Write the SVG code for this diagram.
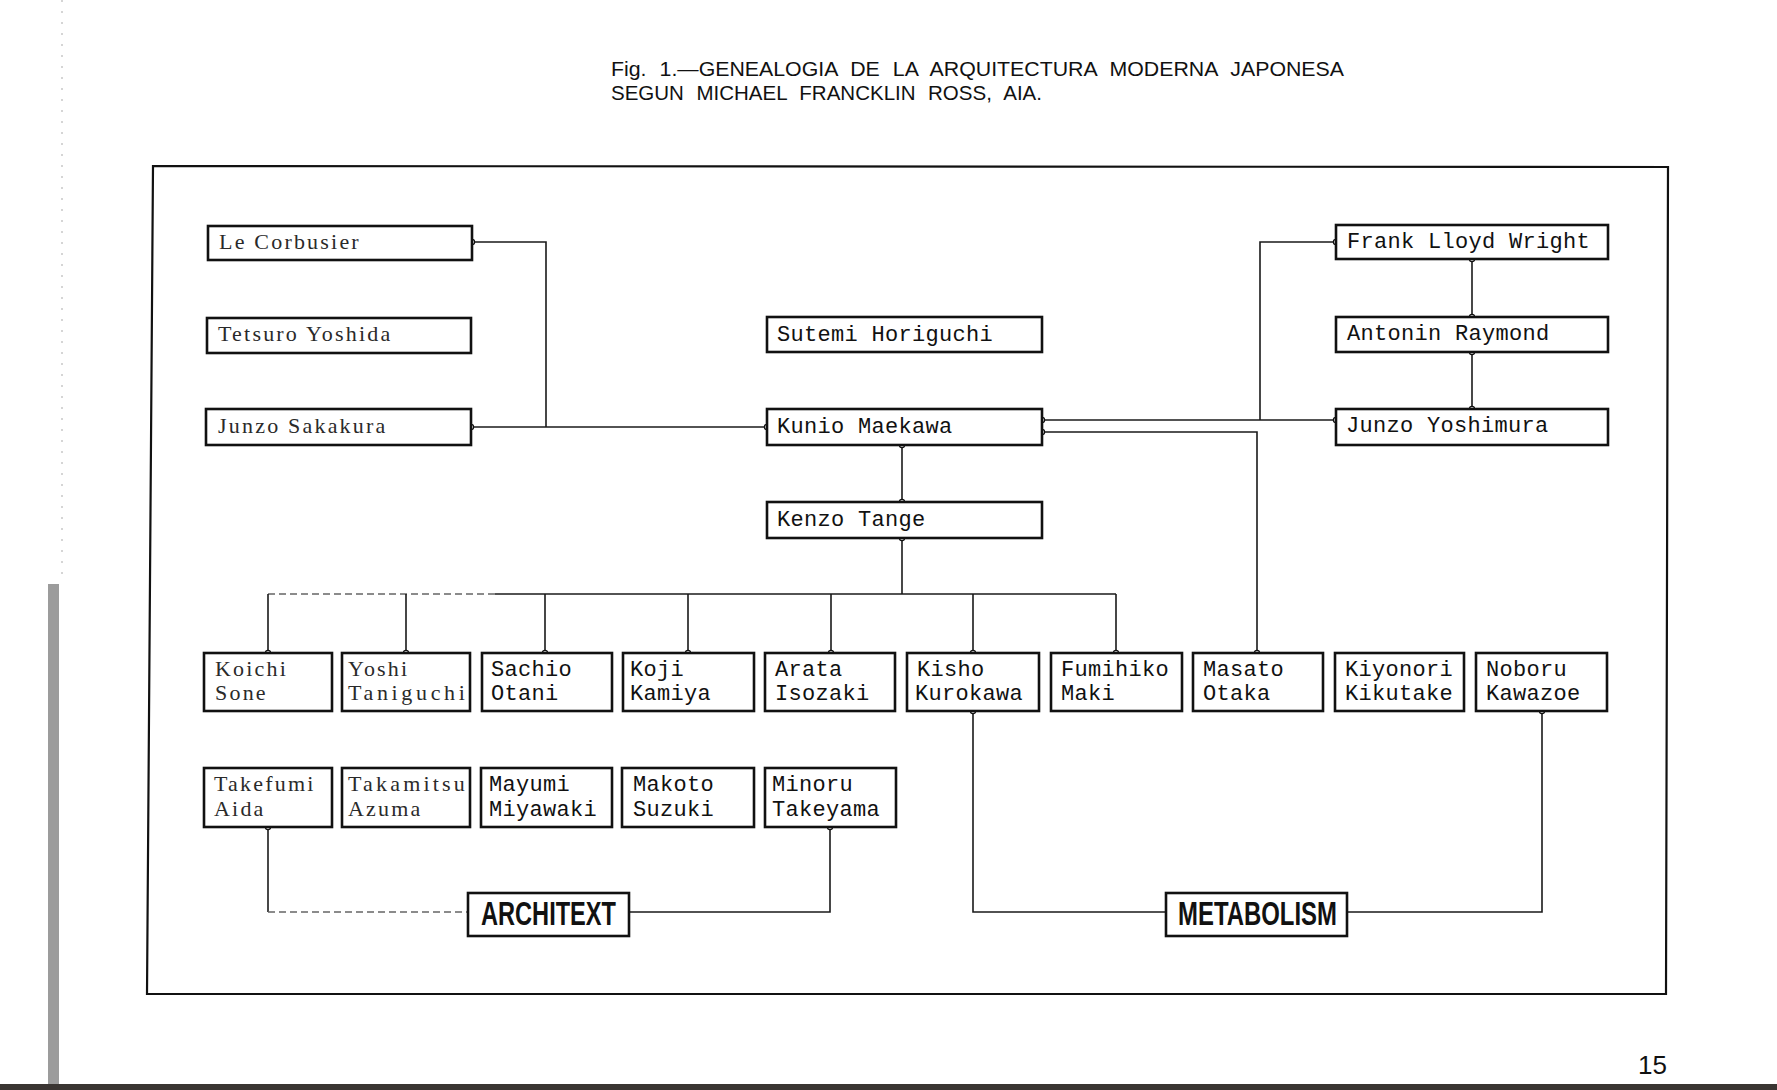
<svg xmlns="http://www.w3.org/2000/svg" width="1777" height="1090" viewBox="0 0 1777 1090">
<style>
.bx{fill:#fff;stroke:#111;stroke-width:2.6}
.t{font-family:"Liberation Mono","DejaVu Sans Mono",monospace;font-size:22px;letter-spacing:0.3px;fill:#111}
.s{font-family:"Liberation Serif","DejaVu Serif",serif;font-size:22px;letter-spacing:2.2px;fill:#2a2a2a}
.c{fill:none;stroke:#1a1a1a;stroke-width:1.6}
.cf{fill:none;stroke:#666;stroke-width:1.4;stroke-dasharray:7 4}
.d{fill:#fff;stroke:#111;stroke-width:1.2}
.big{font-family:"Liberation Sans","Arial",sans-serif;font-weight:bold;font-size:33px;fill:#111}
.ttl{font-family:"Liberation Sans","Arial",sans-serif;font-size:21px;word-spacing:7px;fill:#111}
</style>
<rect x="0" y="0" width="1777" height="1090" fill="#fff"/>
<rect x="48" y="584" width="11" height="500" fill="#9c9c9c"/>
<line x1="62" y1="0" x2="62" y2="580" stroke="#c8c8c8" stroke-width="1.5" stroke-dasharray="2 9"/>
<rect x="0" y="1084" width="1777" height="6" fill="#3a3532"/>
<text class="ttl" x="611" y="76" textLength="733" lengthAdjust="spacingAndGlyphs">Fig. 1.—GENEALOGIA DE LA ARQUITECTURA MODERNA JAPONESA</text>
<text class="ttl" x="611" y="100" textLength="431" lengthAdjust="spacingAndGlyphs">SEGUN MICHAEL FRANCKLIN ROSS, AIA.</text>
<text x="1638" y="1074" font-family="Liberation Sans, Arial, sans-serif" font-size="26" fill="#111">15</text>
<polygon points="153,166 1668,167 1666,994 147,994" fill="none" stroke="#111" stroke-width="2.2"/>

<g id="connectors">
<path class="c" d="M472,242 H546 V427"/>
<path class="c" d="M471,427 H767"/>
<path class="c" d="M1042,420 H1336"/>
<path class="c" d="M1336,242 H1260 V420"/>
<path class="c" d="M1042,432 H1257 V653"/>
<path class="c" d="M1472,259 V317"/>
<path class="c" d="M1472,352 V409"/>
<path class="c" d="M902,445 V502"/>
<path class="c" d="M902,538 V594"/>
<path class="cf" d="M268,594 H495"/>
<path class="c" d="M495,594 H1116"/>
<path class="c" d="M268,594 V653 M406,594 V653 M545,594 V653 M688,594 V653 M831,594 V653 M973,594 V653 M1116,594 V653"/>
<path class="c" d="M268,827 V912"/>
<path class="cf" d="M268,912 H468"/>
<path class="c" d="M629,912 H830 V827"/>
<path class="c" d="M973,711 V912 H1166"/>
<path class="c" d="M1347,912 H1542 V711"/>
<g>
<circle class="d" cx="472" cy="242" r="2.6"/>
<circle class="d" cx="471" cy="427" r="2.6"/>
<circle class="d" cx="767" cy="427" r="2.6"/>
<circle class="d" cx="1042" cy="420" r="2.6"/>
<circle class="d" cx="1042" cy="432" r="2.6"/>
<circle class="d" cx="902" cy="445" r="2.6"/>
<circle class="d" cx="902" cy="502" r="2.6"/>
<circle class="d" cx="902" cy="538" r="2.6"/>
<circle class="d" cx="1336" cy="242" r="2.6"/>
<circle class="d" cx="1336" cy="420" r="2.6"/>
<circle class="d" cx="1472" cy="259" r="2.6"/>
<circle class="d" cx="1472" cy="317" r="2.6"/>
<circle class="d" cx="1472" cy="352" r="2.6"/>
<circle class="d" cx="1472" cy="409" r="2.6"/>
<circle class="d" cx="268" cy="653" r="2.6"/>
<circle class="d" cx="406" cy="653" r="2.6"/>
<circle class="d" cx="545" cy="653" r="2.6"/>
<circle class="d" cx="688" cy="653" r="2.6"/>
<circle class="d" cx="831" cy="653" r="2.6"/>
<circle class="d" cx="973" cy="653" r="2.6"/>
<circle class="d" cx="1116" cy="653" r="2.6"/>
<circle class="d" cx="1257" cy="653" r="2.6"/>
<circle class="d" cx="973" cy="711" r="2.6"/>
<circle class="d" cx="1542" cy="711" r="2.6"/>
<circle class="d" cx="268" cy="827" r="2.6"/>
<circle class="d" cx="830" cy="827" r="2.6"/>
</g>
</g>

<g id="le-corbusier"><rect class="bx" x="208" y="226" width="264" height="34"/><text class="s" x="219" y="249">Le Corbusier</text></g>
<g id="tetsuro-yoshida"><rect class="bx" x="207" y="318" width="264" height="35"/><text class="s" x="218" y="341">Tetsuro Yoshida</text></g>
<g id="junzo-sakakura"><rect class="bx" x="206" y="409" width="265" height="36"/><text class="s" x="218" y="433">Junzo Sakakura</text></g>
<g id="sutemi-horiguchi"><rect class="bx" x="767" y="317" width="275" height="35"/><text class="t" x="777" y="341">Sutemi Horiguchi</text></g>
<g id="kunio-maekawa"><rect class="bx" x="767" y="409" width="275" height="36"/><text class="t" x="777" y="433">Kunio Maekawa</text></g>
<g id="kenzo-tange"><rect class="bx" x="767" y="502" width="275" height="36"/><text class="t" x="777" y="526">Kenzo Tange</text></g>
<g id="frank-lloyd-wright"><rect class="bx" x="1336" y="225" width="272" height="34"/><text class="t" x="1347" y="248">Frank Lloyd Wright</text></g>
<g id="antonin-raymond"><rect class="bx" x="1336" y="317" width="272" height="35"/><text class="t" x="1347" y="340">Antonin Raymond</text></g>
<g id="junzo-yoshimura"><rect class="bx" x="1336" y="409" width="272" height="36"/><text class="t" x="1346" y="432">Junzo Yoshimura</text></g>

<g id="koichi-sone"><rect class="bx" x="204" y="653" width="128" height="58"/><text class="s" x="215" y="676">Koichi</text><text class="s" x="215" y="700">Sone</text></g>
<g id="yoshi-taniguchi"><rect class="bx" x="342" y="653" width="128" height="58"/><text class="s" x="348" y="676">Yoshi</text><text class="s" x="348" y="700" textLength="119" lengthAdjust="spacing">Taniguchi</text></g>
<g id="sachio-otani"><rect class="bx" x="482" y="653" width="130" height="58"/><text class="t" x="491" y="676">Sachio</text><text class="t" x="491" y="700">Otani</text></g>
<g id="koji-kamiya"><rect class="bx" x="623" y="653" width="131" height="58"/><text class="t" x="630" y="676">Koji</text><text class="t" x="630" y="700">Kamiya</text></g>
<g id="arata-isozaki"><rect class="bx" x="765" y="653" width="130" height="58"/><text class="t" x="775" y="676">Arata</text><text class="t" x="775" y="700">Isozaki</text></g>
<g id="kisho-kurokawa"><rect class="bx" x="907" y="653" width="132" height="58"/><text class="t" x="917" y="676">Kisho</text><text class="t" x="915" y="700">Kurokawa</text></g>
<g id="fumihiko-maki"><rect class="bx" x="1051" y="653" width="131" height="58"/><text class="t" x="1061" y="676">Fumihiko</text><text class="t" x="1061" y="700">Maki</text></g>
<g id="masato-otaka"><rect class="bx" x="1193" y="653" width="130" height="58"/><text class="t" x="1203" y="676">Masato</text><text class="t" x="1203" y="700">Otaka</text></g>
<g id="kiyonori-kikutake"><rect class="bx" x="1335" y="653" width="129" height="58"/><text class="t" x="1345" y="676">Kiyonori</text><text class="t" x="1345" y="700">Kikutake</text></g>
<g id="noboru-kawazoe"><rect class="bx" x="1476" y="653" width="131" height="58"/><text class="t" x="1486" y="676">Noboru</text><text class="t" x="1486" y="700">Kawazoe</text></g>

<g id="takefumi-aida"><rect class="bx" x="204" y="768" width="128" height="59"/><text class="s" x="214" y="791">Takefumi</text><text class="s" x="214" y="816">Aida</text></g>
<g id="takamitsu-azuma"><rect class="bx" x="342" y="768" width="128" height="59"/><text class="s" x="348" y="791" textLength="119" lengthAdjust="spacing">Takamitsu</text><text class="s" x="348" y="816">Azuma</text></g>
<g id="mayumi-miyawaki"><rect class="bx" x="481" y="768" width="131" height="59"/><text class="t" x="489" y="791">Mayumi</text><text class="t" x="489" y="816">Miyawaki</text></g>
<g id="makoto-suzuki"><rect class="bx" x="622" y="768" width="132" height="59"/><text class="t" x="633" y="791">Makoto</text><text class="t" x="633" y="816">Suzuki</text></g>
<g id="minoru-takeyama"><rect class="bx" x="765" y="768" width="131" height="59"/><text class="t" x="772" y="791">Minoru</text><text class="t" x="772" y="816">Takeyama</text></g>

<g id="architext"><rect class="bx" x="468" y="893" width="161" height="43"/><text class="big" x="481" y="925" textLength="135" lengthAdjust="spacingAndGlyphs">ARCHITEXT</text></g>
<g id="metabolism"><rect class="bx" x="1166" y="893" width="181" height="43"/><text class="big" x="1178" y="925" textLength="159" lengthAdjust="spacingAndGlyphs">METABOLISM</text></g>
</svg>
